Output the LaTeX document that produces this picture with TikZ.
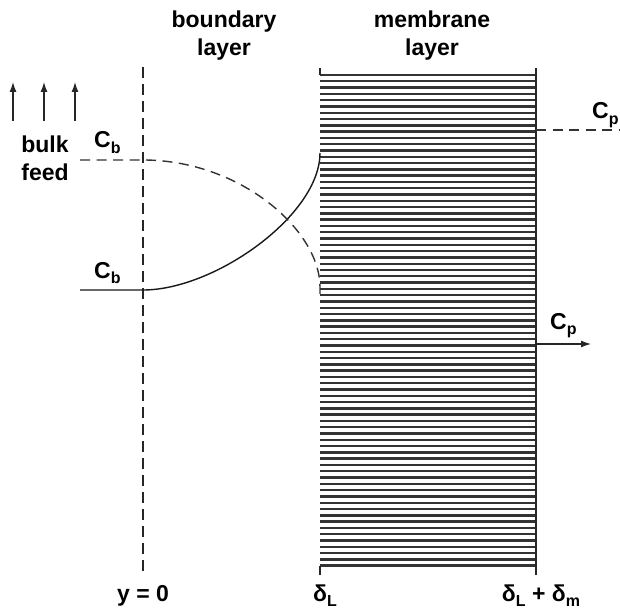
\documentclass[tikz,border=0pt]{standalone}
\usepackage{fontspec}
\setmainfont{Liberation Sans}
\usepackage{tikz}
\usetikzlibrary{arrows.meta,positioning}

\newcommand{\lowsub}[1]{\raisebox{-0.45ex}{\fontsize{16}{16}\selectfont #1}}

\begin{document}
\begin{tikzpicture}[
      x=1pt, y=-1pt,
      font=\bfseries\fontsize{23}{28}\selectfont,
      wall/.style={line width=1.5pt, black!85},
      hatch/.style={line width=2.4pt, black!80},
      profile/.style={line width=1.4pt, black!90},
      ddash/.style={line width=1.4pt, black!80, dash pattern=on 10pt off 6.5pt},
      flow/.style={-{Latex[length=10pt,width=7pt]}, line width=1.3pt, black!85},
      label/.style={inner sep=0pt, anchor=base west}
    ]
    \useasboundingbox (0,0) rectangle (620,612);

    % headings
    \node[align=center, anchor=base] (blayer) at (224,56) {boundary\\layer};
    \node[align=center, anchor=base] (mlayer) at (432,56) {membrane\\layer};

    % feed arrows
    \foreach \x [count=\i] in {13,44,75} {
      \coordinate (feedlow\i) at (\x,121);
      \coordinate (feedtop\i) at (\x,82);
      \draw[flow] (feedlow\i) -- (feedtop\i);
    }
    \node[align=center, anchor=base] (bulk) at (45,181) {bulk\\feed};

    % plane y = 0
    \coordinate (ytop) at (143,67);
    \coordinate (ybot) at (143,576);
    \draw[line width=1.4pt, black!85, dash pattern=on 11pt off 6pt] (ytop) -- (ybot);
    \node[anchor=base] (yzero) at (143,601) {y = 0};

    % membrane
    \foreach \i in {0,...,78}
      \draw[hatch] (320,75+\i*6.29) -- (536,75+\i*6.29);
    \coordinate (mtl) at (320,68);
    \coordinate (mtr) at (536,68);
    \coordinate (mbl) at (320,575);
    \coordinate (mbr) at (536,575);
    \draw[wall] (mtl) -- (320,75);
    \draw[wall] (320,566) -- (mbl);
    \draw[wall] (mtr) -- (mbr);
    \node[anchor=base] (dl) at (325,601) {δ\lowsub{L}};
    \node[anchor=base] (dlm) at (541,601) {δ\lowsub{L} + δ\lowsub{m}};

    % concentration profiles
    \coordinate (solidstart) at (80,290);
    \coordinate (solidzero) at (143,290);
    \coordinate (solidwall) at (320,153);
    \draw[profile] (solidstart) -- (solidzero)
      .. controls (215,290) and (320,215) .. (solidwall);
    \coordinate (dashstart) at (80,160);
    \coordinate (dashzero) at (143,160);
    \coordinate (dashwall) at (320,297);
    \draw[ddash] (dashstart) -- (dashzero)
      .. controls (240,160) and (320,230) .. (320,287) -- (dashwall);
    \node[label] (cbup) at (94,148) {C\lowsub{b}};
    \node[label] (cblow) at (94,278) {C\lowsub{b}};

    % permeate side
    \coordinate (pdash) at (536,130);
    \coordinate (pend) at (621,130);
    \draw[ddash] (pdash) -- (pend);
    \node[label] (cpup) at (592,119) {C\lowsub{p}};
    \coordinate (pout) at (536,344);
    \coordinate (ptip) at (591,344);
    \draw[flow] (pout) -- (ptip);
    \node[label] (cplow) at (550,329) {C\lowsub{p}};
  \end{tikzpicture}
\end{document}
